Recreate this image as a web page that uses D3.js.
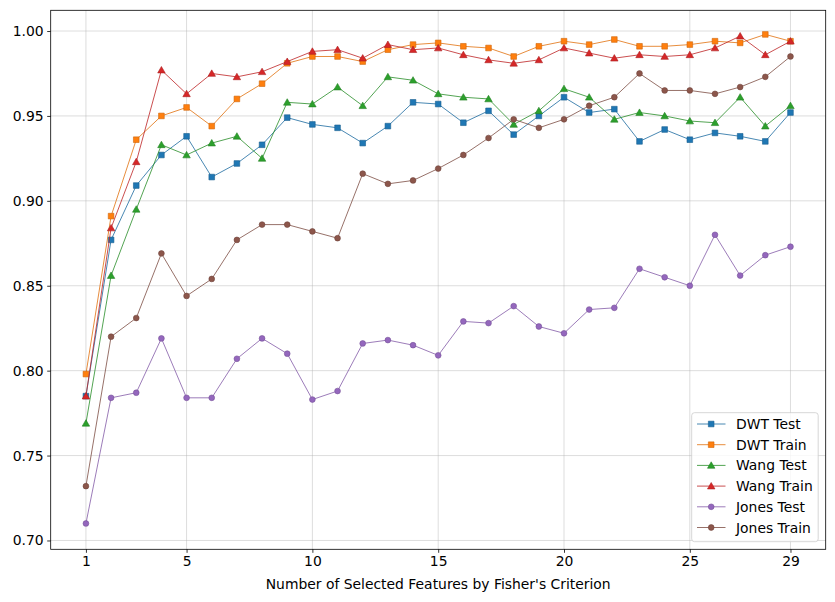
<!DOCTYPE html>
<html><head><meta charset="utf-8">
<script src="https://cdn.jsdelivr.net/npm/d3@7"></script>
<style>body{margin:0;background:#fff}svg{display:block}text{font-family:"DejaVu Sans",sans-serif}</style>
</head><body><svg id="c" width="835" height="602"></svg>
<script>
const xs = d3.range(1, 30);
const xTicks = [1, 5, 10, 15, 20, 25, 29];
const yTicks = [0.70, 0.75, 0.80, 0.85, 0.90, 0.95, 1.00];
const seriesNames = ["DWT Test", "DWT Train", "Wang Test", "Wang Train", "Jones Test", "Jones Train"];
const dwtTest = [0.785,0.877,0.909,0.927,0.938,0.914,0.922,0.933,0.949,0.945,0.943,0.934,0.944,0.958,0.957,0.946,0.953,0.939,0.950,0.961,0.952,0.954,0.935,0.942,0.936,0.940,0.938,0.935,0.952];
const dwtTrain = [0.798,0.891,0.936,0.950,0.955,0.944,0.960,0.969,0.981,0.985,0.985,0.982,0.989,0.992,0.993,0.991,0.990,0.985,0.991,0.994,0.992,0.995,0.991,0.991,0.992,0.994,0.993,0.998,0.994];
const wangTest = [0.769,0.856,0.895,0.933,0.927,0.934,0.938,0.925,0.958,0.957,0.967,0.956,0.973,0.971,0.963,0.961,0.960,0.945,0.953,0.966,0.961,0.948,0.952,0.950,0.947,0.946,0.961,0.944,0.956];
const wangTrain = [0.785,0.884,0.923,0.977,0.963,0.975,0.973,0.976,0.982,0.988,0.989,0.984,0.992,0.989,0.990,0.986,0.983,0.981,0.983,0.990,0.987,0.984,0.986,0.985,0.986,0.990,0.997,0.986,0.994];
const jonesTest = [0.710,0.784,0.787,0.819,0.784,0.784,0.807,0.819,0.810,0.783,0.788,0.816,0.818,0.815,0.809,0.829,0.828,0.838,0.826,0.822,0.836,0.837,0.860,0.855,0.850,0.880,0.856,0.868,0.873];
const jonesTrain = [0.732,0.820,0.831,0.869,0.844,0.854,0.877,0.886,0.886,0.882,0.878,0.916,0.910,0.912,0.919,0.927,0.937,0.948,0.943,0.948,0.956,0.961,0.975,0.965,0.965,0.963,0.967,0.973,0.985];
const colors = ["#1f77b4","#ff7f0e","#2ca02c","#d62728","#9467bd","#8c564b"];
const markers = ["square","square","triangle","triangle","circle","circle"];
const allSeries = [dwtTest, dwtTrain, wangTest, wangTrain, jonesTest, jonesTrain];

const svg = d3.select("#c");
const L = 50.7, R = 825.7, T = 10.3, B = 549.3;
const x = d3.scaleLinear().domain([-0.4, 30.4]).range([L, R]);
const y = d3.scaleLinear().domain([0.6948, 1.0122]).range([B, T]);

// grid
const g = svg.append("g");
g.selectAll(".gx").data(xTicks).join("line")
  .attr("x1", d => x(d)).attr("x2", d => x(d)).attr("y1", T).attr("y2", B)
  .attr("stroke", "#b0b0b0").attr("stroke-opacity", 0.55).attr("stroke-width", 0.8);
g.selectAll(".gy").data(yTicks).join("line")
  .attr("y1", d => y(d)).attr("y2", d => y(d)).attr("x1", L).attr("x2", R)
  .attr("stroke", "#b0b0b0").attr("stroke-opacity", 0.55).attr("stroke-width", 0.8);

// axes
const xAxis = d3.axisBottom(x).tickValues(xTicks).tickFormat(d3.format("d")).tickSize(3.5).tickPadding(3.5);
const yAxis = d3.axisLeft(y).tickValues(yTicks).tickFormat(d3.format(".2f")).tickSize(3.5).tickPadding(3.5);
const ax = svg.append("g").attr("transform", `translate(0,${B})`).call(xAxis);
const ay = svg.append("g").attr("transform", `translate(${L},0)`).call(yAxis);
[ax, ay].forEach(a => {
  a.select(".domain").remove();
  a.selectAll(".tick line").attr("stroke", "#000").attr("stroke-width", 0.8);
  a.selectAll(".tick text").attr("fill", "#000").style("font-size", "13.9px").style("font-family", "DejaVu Sans");
});

const sym = {
  square: d3.symbol().type(d3.symbolSquare).size(32),
  triangle: d3.symbol().type(d3.symbolTriangle).size(24),
  circle: d3.symbol().type(d3.symbolCircle).size(26)
};
const dark = c => d3.color(c).darker(0.6).formatHex();
const lineCol = c => d3.color(c).darker(0.35).formatHex();

const plot = svg.append("g");
const line = d3.line().x((d, i) => x(xs[i])).y(d => y(d));
allSeries.forEach((s, k) => {
  plot.append("path").datum(s).attr("d", line).attr("fill", "none")
    .attr("stroke", lineCol(colors[k])).attr("stroke-width", 0.8);
  plot.selectAll(null).data(s).join("path")
    .attr("d", sym[markers[k]])
    .attr("transform", (d, i) => `translate(${x(xs[i])},${y(d) + (markers[k] === "triangle" ? 0.7 : 0)})`)
    .attr("fill", colors[k]).attr("stroke", dark(colors[k])).attr("stroke-width", 0.6);
});

// spines
svg.append("rect").attr("x", L).attr("y", T).attr("width", R - L).attr("height", B - T)
  .attr("fill", "none").attr("stroke", "#000").attr("stroke-width", 0.8);

// x label
svg.append("text").attr("x", (L + R) / 2).attr("y", 589).attr("text-anchor", "middle")
  .style("font-size", "13.9px").attr("fill", "#000").text("Number of Selected Features by Fisher's Criterion");

// legend
const lg = svg.append("g");
lg.append("rect").attr("x", 691.7).attr("y", 412.7).attr("width", 126.5).attr("height", 129)
  .attr("rx", 2.8).attr("fill", "#fff").attr("fill-opacity", 0.8).attr("stroke", "#cccccc").attr("stroke-width", 0.8);
seriesNames.forEach((n, k) => {
  const cy = 424 + k * 20.7;
  lg.append("line").attr("x1", 697).attr("x2", 725.5).attr("y1", cy).attr("y2", cy)
    .attr("stroke", lineCol(colors[k])).attr("stroke-width", 0.8);
  lg.append("path").attr("d", sym[markers[k]]).attr("transform", `translate(711.2,${cy + (markers[k] === "triangle" ? 0.7 : 0)})`)
    .attr("fill", colors[k]).attr("stroke", dark(colors[k])).attr("stroke-width", 0.6);
  lg.append("text").attr("x", 736).attr("y", cy).attr("dy", "0.36em")
    .style("font-size", "13.9px").attr("fill", "#000").text(n);
});
</script></body></html>
